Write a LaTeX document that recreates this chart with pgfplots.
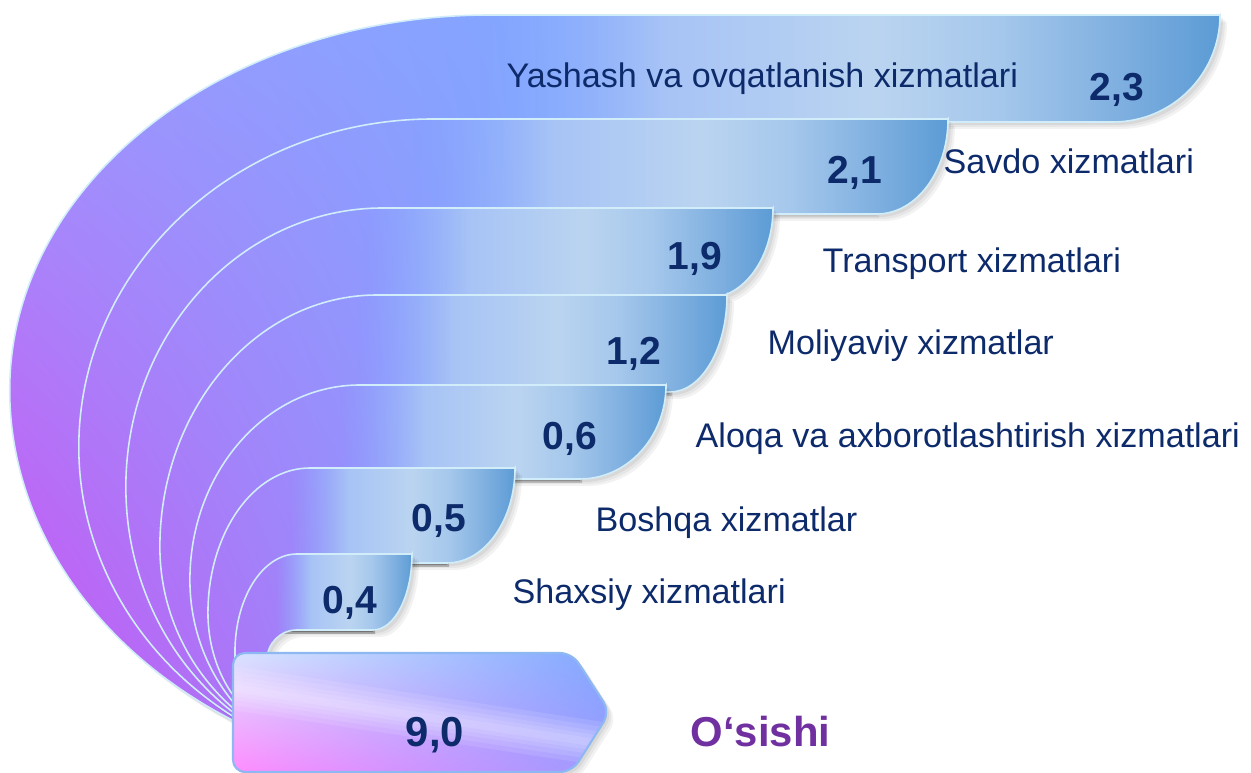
\documentclass[border=0pt]{standalone}
\usepackage{fontspec}
\setmainfont{Liberation Sans}
\usepackage{pgfplots}
\usepackage{pgfplotstable}
\pgfplotsset{compat=1.18}
\usetikzlibrary{fadings,shadings}

\definecolor{navy}{HTML}{0D2A6B}
\definecolor{osish}{HTML}{7030A0}
\definecolor{edge}{HTML}{D2EDFA}
\definecolor{gUL}{HTML}{9C9AFF}
\definecolor{gUR}{HTML}{80A6FF}
\definecolor{gLL}{HTML}{D04AF0}
\definecolor{gLR}{HTML}{80A6FF}
\definecolor{barA}{HTML}{88AAFF}
\definecolor{barB}{HTML}{A6C2F6}
\definecolor{barC}{HTML}{BAD4F0}
\definecolor{barD}{HTML}{A6C8EC}
\definecolor{barE}{HTML}{80B0E0}
\definecolor{barF}{HTML}{5B9BD5}
\definecolor{boxedge}{HTML}{8EB8F2}

\pgfdeclarehorizontalshading{barshade}{100bp}{color(0bp)=(barA); color(25bp)=(barA);
  color(37bp)=(barB); color(52bp)=(barC); color(60bp)=(barD); color(68bp)=(barE);
  color(75bp)=(barF); color(100bp)=(barF)}
\pgfdeclarehorizontalshading{barfadeshade}{100bp}{color(0bp)=(black); color(25bp)=(black);
  color(38bp)=(white); color(100bp)=(white)}
\pgfdeclarefading{barfade}{\pgfuseshading{barfadeshade}}

% band outlines, 1 unit = 1 px of the reference (y measured upwards)
\newcommand\bandA{(1220,758) -- (490,758)
  arc[start angle=90,end angle=180,x radius=4.80cm,y radius=3.75cm]
  arc[start angle=180,end angle=237.6,x radius=4.80cm,y radius=3.907cm]
  -- (250,73) -- (250,146) -- (368,146) -- (368,213) -- (442,213) -- (442,297)
  -- (575,297) -- (575,384) -- (665,384) -- (665,478) -- (703,478) -- (703,562)
  -- (872,562) -- (872,651) -- (1113,651)
  arc[start angle=270,end angle=360,x radius=1.07cm,y radius=1.07cm] -- cycle}
\newcommand\bandB{(948,654) -- (433,654)
  arc[start angle=90,end angle=180,x radius=3.54cm,y radius=3.28cm]
  arc[start angle=180,end angle=235.6,x radius=3.54cm,y radius=3.26cm]
  -- (250,73) -- (250,146) -- (368,146) -- (368,213) -- (442,213) -- (442,297)
  -- (575,297) -- (575,384) -- (665,384) -- (665,478) -- (703,478) -- (703,559)
  -- (877,559)
  arc[start angle=270,end angle=360,x radius=0.71cm,y radius=0.95cm] -- cycle}
\newcommand\bandC{(773,565) -- (383,565)
  arc[start angle=90,end angle=180,x radius=2.57cm,y radius=2.79cm]
  arc[start angle=180,end angle=234.3,x radius=2.57cm,y radius=2.77cm]
  -- (250,73) -- (250,146) -- (368,146) -- (368,213) -- (442,213) -- (442,297)
  -- (575,297) -- (575,384) -- (665,384) -- (665,475) -- (708,475)
  arc[start angle=270,end angle=360,x radius=0.65cm,y radius=0.90cm] -- cycle}
\newcommand\bandD{(727,478) -- (377,478)
  arc[start angle=90,end angle=180,x radius=2.17cm,y radius=2.52cm]
  arc[start angle=180,end angle=228.4,x radius=2.17cm,y radius=2.15cm]
  -- (250,73) -- (250,146) -- (368,146) -- (368,213) -- (442,213) -- (442,297)
  -- (575,297) -- (575,381) -- (670,381)
  arc[start angle=270,end angle=360,x radius=0.57cm,y radius=0.97cm] -- cycle}
\newcommand\bandE{(666,388) -- (360,388)
  arc[start angle=90,end angle=180,x radius=1.70cm,y radius=1.95cm]
  arc[start angle=180,end angle=221.7,x radius=1.70cm,y radius=1.83cm]
  -- (250,73) -- (250,146) -- (368,146) -- (368,213) -- (442,213) -- (442,294)
  -- (580,294)
  arc[start angle=270,end angle=360,x radius=0.86cm,y radius=0.94cm] -- cycle}
\newcommand\bandF{(515,305) -- (310,305)
  arc[start angle=90,end angle=180,x radius=1.02cm,y radius=1.45cm]
  arc[start angle=180,end angle=221,x radius=1.02cm,y radius=1.25cm]
  -- (250,73) -- (250,146) -- (368,146) -- (368,210) -- (447,210)
  arc[start angle=270,end angle=360,x radius=0.68cm,y radius=0.95cm] -- cycle}
\newcommand\bandG{(412,219) -- (297,219)
  arc[start angle=90,end angle=180,x radius=0.62cm,y radius=0.98cm]
  -- (235,73) -- (267,73) -- (267,113)
  arc[start angle=180,end angle=90,radius=0.30cm] -- (373,143)
  arc[start angle=270,end angle=360,x radius=0.39cm,y radius=0.76cm] -- cycle}
\newcommand\boxpath{[rounded corners=0.12cm] (233,61) -- (233,120) -- (572,120)
  -- (610,61) -- (572,1) -- (233,1) -- cycle}

% soft shadow to the lower right
\newcommand\softshadow[1]{%
  \fill[black,opacity=0.05,xshift=0.07cm,yshift=-0.07cm] #1;
  \fill[black,opacity=0.05,xshift=0.05cm,yshift=-0.05cm] #1;
  \fill[black,opacity=0.06,xshift=0.03cm,yshift=-0.03cm] #1;}

% #1 outline, #2-#5 bar part (x from, y low, x to, y high)
\newcommand\drawband[5]{%
  \softshadow{#1}
  \begin{scope}
    \clip #1;
    \shade[upper left=gUL,upper right=gUR,lower left=gLL,lower right=gLR] (0,0) rectangle (560,773);
    \fill[gUR] (559,0) rectangle (1251,773);
    \shade[shading=barshade,path fading=barfade] (#2,#3) rectangle (#4,#5);
  \end{scope}
  \draw[edge,line width=0.45pt] #1;}

% pale streak across the total box
\newcommand\streak[4]{%
  \fill[white,opacity=0.10] (233,#1) -- (610,#2) -- (610,#3) -- (233,#4) -- cycle;}

\pgfplotstableread{
x y v
1117 686 2.3
855 603 2.1
695 517 1.9
634 422 1.2
570 337 0.6
439 255 0.5
350 173 0.4
}\vals

\pgfplotstableread[col sep=comma]{
x,y,lab
506,685,Yashash va ovqatlanish xizmatlari
943,599,Savdo xizmatlari
822,500,Transport xizmatlari
767,418,Moliyaviy xizmatlar
695,325,Aloqa va axborotlashtirish xizmatlari
595,241,Boshqa xizmatlar
512,169,Shaxsiy xizmatlari
}\labs

\begin{document}
\begin{tikzpicture}
\begin{axis}[
  x=0.01cm, y=0.01cm,
  xmin=0, xmax=1251, ymin=0, ymax=773,
  hide axis, clip=false,
]
\coordinate (BL) at (axis cs:0,0);
\coordinate (TR) at (axis cs:1251,773);

\drawband{\bandA}{470}{648}{1221}{759}
\drawband{\bandB}{413}{556}{949}{655}
\drawband{\bandC}{363}{472}{774}{566}
\drawband{\bandD}{357}{378}{728}{479}
\drawband{\bandE}{340}{291}{667}{389}
\drawband{\bandF}{290}{207}{516}{306}
\drawband{\bandG}{275}{140}{413}{220}

% total
\softshadow{\boxpath}
\begin{scope}
  \clip \boxpath;
  \shade[upper left=white!70!gUR,upper right=gUR,lower left=magenta!45!white,lower right=gUL] (233,1) rectangle (610,120);
  \streak{107}{50}{6}{63}
  \streak{102}{45}{11}{68}
  \streak{97}{40}{16}{73}
  \streak{93}{36}{20}{77}
  \streak{89}{32}{24}{81}
\end{scope}
\draw[boxedge,line width=0.6pt] \boxpath;

% values
\addplot[draw=none, nodes near coords={\pgfmathprintnumber[fixed,fixed zerofill,precision=1,use comma,assume math mode=true]{\pgfplotspointmeta}},
  every node near coord/.append style={anchor=center,inner sep=0pt,text depth=0pt,text=navy,font=\bfseries\fontsize{11.1}{13}\selectfont},
  point meta=explicit]
  table[x=x,y=y,meta=v] {\vals};
\addplot[draw=none, nodes near coords={\pgfmathprintnumber[fixed,fixed zerofill,precision=1,use comma,assume math mode=true]{\pgfplotspointmeta}},
  every node near coord/.append style={anchor=center,inner sep=0pt,text depth=0pt,text=navy,font=\bfseries\fontsize{11.9}{14}\selectfont},
  point meta=explicit]
  coordinates {(435,41) [9.0]};

% category names
\addplot[draw=none, nodes near coords,
  every node near coord/.append style={anchor=base west,inner sep=0pt,text=navy,font=\fontsize{9.7}{11}\selectfont},
  point meta=explicit symbolic]
  table[x=x,y=y,meta=lab] {\labs};
\addplot[draw=none, nodes near coords={O‘sishi},
  every node near coord/.append style={anchor=base west,inner sep=0pt,text=osish,font=\bfseries\fontsize{11.9}{14}\selectfont}]
  coordinates {(690,26)};
\end{axis}
\pgfresetboundingbox
\useasboundingbox (BL) rectangle (TR);
\end{tikzpicture}
\end{document}
